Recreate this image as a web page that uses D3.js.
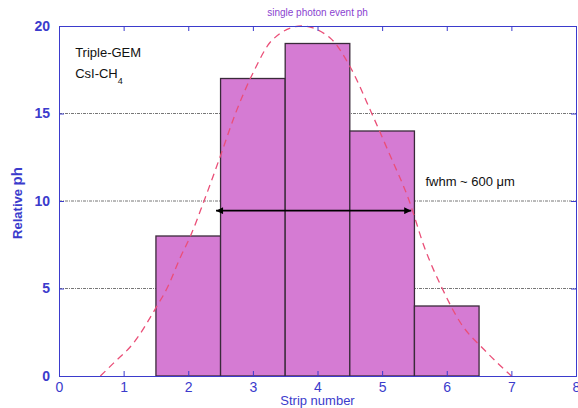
<!DOCTYPE html>
<html>
<head>
<meta charset="utf-8">
<script src="https://cdn.jsdelivr.net/npm/d3@7"></script>
<style>
  body { margin: 0; background: #fff; }
  svg { display: block; font-family: "Liberation Sans", Arial, sans-serif; }
</style>
</head>
<body>
<svg class="main-container" width="578" height="408"></svg>
<script>
// histogram: strip number vs relative pulse height
const strips = [2, 3, 4, 5, 6];
const heights = [8, 17, 19, 14, 4];

// dashed fit curve
const fitX = [0.64, 0.84, 1.15, 1.51, 1.67, 1.88, 2.03, 2.24, 2.5, 2.73, 3.0, 3.3, 3.75, 4.2, 4.5, 4.84, 5.1, 5.42, 5.65, 5.93, 6.22, 6.58, 7.0];
const fitY = [0, 0.72, 1.87, 3.96, 5.0, 6.8, 7.96, 9.96, 12.6, 15, 17.3, 19.2, 20, 19.3, 17.7, 15, 12.8, 10, 7.4, 5.0, 3.0, 1.5, 0];

const gridLevels = [5, 10, 15];
const xTicks = [0, 1, 2, 3, 4, 5, 6, 7, 8];
const yTicks = [0, 5, 10, 15, 20];

const axisBlue = '#3b3bcc';

const svg = d3.select('.main-container');
const margin = {t: 26, r: 2, b: 32, l: 59};
const width = 578, height = 408;

const x = d3.scaleLinear().domain([0, 8]).range([margin.l, width - margin.r]);
const y = d3.scaleLinear().domain([0, 20]).range([height - margin.b, margin.t]);

// grid lines behind the bars
svg.append('g')
    .selectAll('line')
    .data(gridLevels)
    .join('line')
    .attr('x1', x(0))
    .attr('x2', x(8))
    .attr('y1', d => y(d))
    .attr('y2', d => y(d))
    .attr('stroke', '#777')
    .attr('stroke-width', 1)
    .attr('stroke-dasharray', '3,1,1,1');

// bars
svg.append('g')
    .selectAll('rect')
    .data(strips)
    .join('rect')
    .attr('x', d => x(d - 0.5))
    .attr('y', (d, i) => y(heights[i]))
    .attr('width', d => x(d + 0.5) - x(d - 0.5))
    .attr('height', (d, i) => y(0) - y(heights[i]))
    .attr('fill', '#d57bd3')
    .attr('stroke', '#3a2a3a')
    .attr('stroke-width', 1.3);

// dashed fit
const fitData = fitX.map((d, i) => [d, fitY[i]]);
svg.append('path')
    .datum(fitData)
    .attr('d', d3.line().x(d => x(d[0])).y(d => y(d[1])).curve(d3.curveMonotoneX))
    .attr('fill', 'none')
    .attr('stroke', '#ea4f78')
    .attr('stroke-width', 1.3)
    .attr('stroke-dasharray', '7,5');

// axes, ticks pointing inward
function drawAxis(axisFn, scale, translate, major, minor, labels) {
    const g = svg.append('g').attr('transform', translate);
    g.call(axisFn(scale).tickValues(minor).tickSize(-3).tickFormat(''));
    g.call(axisFn(scale).tickValues(major).tickSize(-5).tickPadding(8)
        .tickFormat(labels ? d3.format('d') : ''));
    g.selectAll('.domain').attr('stroke', axisBlue);
    g.selectAll('line').attr('stroke', axisBlue);
    g.selectAll('text').attr('fill', axisBlue).attr('font-size', 14)
        .attr('font-family', '"Liberation Sans", Arial, sans-serif');
    return g;
}

const xMinor = d3.range(0, 8.001, 0.2).map(d => +d.toFixed(1));
const yMinor = d3.range(0, 21, 1);

drawAxis(d3.axisBottom, x, `translate(0,${y(0)})`, xTicks, xMinor, true)
    .selectAll('text').attr('dy', '0.55em');
drawAxis(d3.axisTop, x, `translate(0,${y(20)})`, xTicks, xMinor, false);
drawAxis(d3.axisLeft, y, `translate(${x(0)},0)`, yTicks, yMinor, true)
    .selectAll('text').attr('font-weight', 'bold').attr('dx', '-1');
drawAxis(d3.axisRight, y, `translate(${x(8)},0)`, yTicks, yMinor, false);

// fwhm arrow
const defs = svg.append('defs');
defs.append('marker')
    .attr('id', 'head')
    .attr('viewBox', '0 0 10 10')
    .attr('refX', 10).attr('refY', 5)
    .attr('markerWidth', 9).attr('markerHeight', 7)
    .attr('markerUnits', 'userSpaceOnUse')
    .attr('orient', 'auto-start-reverse')
    .append('path')
    .attr('d', 'M0,0 L10,5 L0,10 Z')
    .attr('fill', '#000');

svg.append('line')
    .attr('x1', x(2.43)).attr('x2', x(5.45))
    .attr('y1', y(9.45)).attr('y2', y(9.45))
    .attr('stroke', '#000')
    .attr('stroke-width', 1.6)
    .attr('marker-start', 'url(#head)')
    .attr('marker-end', 'url(#head)');

// annotations
svg.append('text')
    .attr('x', x(0.25)).attr('y', 57)
    .attr('font-size', 13).attr('fill', '#111')
    .text('Triple-GEM');

const csi = svg.append('text')
    .attr('x', x(0.25)).attr('y', 78)
    .attr('font-size', 13).attr('fill', '#111');
csi.append('tspan').text('CsI-CH');
csi.append('tspan').attr('dy', 6).attr('font-size', 9).text('4');

svg.append('text')
    .attr('x', x(5.67)).attr('y', 186)
    .attr('font-size', 13).attr('fill', '#111')
    .text('fwhm  ~ 600 μm');

svg.append('text')
    .attr('x', x(4)).attr('y', 16)
    .attr('text-anchor', 'middle')
    .attr('font-size', 10).attr('fill', '#8a3fd0')
    .text('single photon event ph');

svg.append('text')
    .attr('x', x(4)).attr('y', 405)
    .attr('text-anchor', 'middle')
    .attr('font-size', 13).attr('fill', axisBlue)
    .text('Strip number');

const yl = svg.append('text')
    .attr('transform', `translate(22,${y(10) + 2}) rotate(-90)`)
    .attr('text-anchor', 'middle')
    .attr('fill', axisBlue)
    .attr('font-weight', 'bold');
yl.append('tspan').attr('font-size', 13).text('Relative ');
yl.append('tspan').attr('font-size', 15).text('ph');
</script>
</body>
</html>
